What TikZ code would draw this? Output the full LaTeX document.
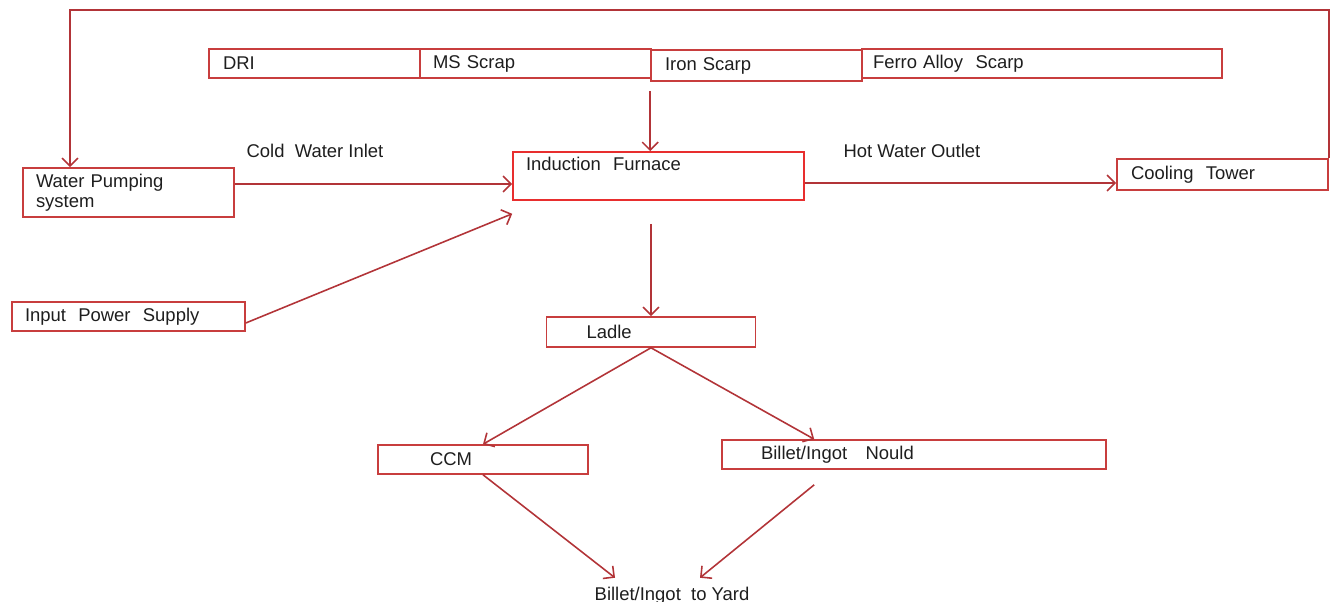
\documentclass[tikz,border=0pt]{standalone}
\usepackage{fontspec}
\setmainfont{Liberation Sans}
\usetikzlibrary{arrows.meta,calc}
\definecolor{boxred}{RGB}{200,62,62}
\definecolor{linered}{RGB}{178,52,56}
\definecolor{furnred}{RGB}{232,46,46}
\definecolor{txt}{RGB}{30,30,30}
\begin{document}
\begin{tikzpicture}
		\tikzset{block/.style = {shape=rectangle,draw=boxred,line width=.9pt,inner ysep=0pt,align=left,text=txt,font=\fontsize{10.5}{11.5}\selectfont}}
		\tikzset{label/.style = {text=txt,inner sep=0pt,font=\fontsize{10.5}{11}\selectfont}}
		\tikzset{edge/.style = {draw=linered,line width=.9pt,-{Straight Barb[length=1.6mm,width=3.2mm]}}}
		\useasboundingbox (0,0) rectangle (26.6,-12.04);
		% raw materials
		\node[block,minimum height=.58cm,inner xsep=.28cm,text width=3.66cm] (dri) at (6.29,-1.27) {DRI};
		\node[block,minimum height=.58cm,inner xsep=.26cm,text width=4.10cm] (ms) at (10.71,-1.27) {MS Scrap};
		\node[block,minimum height=.62cm,inner xsep=.28cm,text width=3.66cm] (iron) at (15.13,-1.31) {Iron Scarp};
		\node[block,minimum height=.58cm,inner xsep=.22cm,text width=6.76cm] (ferro) at (20.84,-1.27) {Ferro Alloy\ \ Scarp};
		% main line
		\node[block,minimum height=.98cm,inner xsep=.26cm,text width=3.70cm] (wps) at (2.57,-3.85) {Water Pumping\\system};
		\node[block,draw=furnred,inner xsep=.26cm,text width=5.30cm,text height=.38cm,text depth=.58cm] (furnace) at (13.17,-3.52) {Induction\ \ Furnace};
		\node[block,minimum height=.62cm,inner xsep=.28cm,text width=3.66cm] (cooling) at (24.45,-3.49) {Cooling\ \ Tower};
		\node[block,minimum height=.58cm,inner xsep=.26cm,text width=4.14cm] (power) at (2.57,-6.33) {Input\ \ Power\ \ Supply};
		\node[block,minimum height=.60cm,inner xsep=.80cm,text width=2.58cm] (ladle) at (13.02,-6.64) {Ladle};
		\node[block,minimum height=.58cm,inner xsep=1.04cm,text width=2.12cm] (ccm) at (9.66,-9.19) {CCM};
		\node[block,minimum height=.58cm,inner xsep=.78cm,text width=6.12cm] (mould) at (18.28,-9.09) {Billet/Ingot\ \ \ Nould};
		\node[label,anchor=base] (yard) at (13.44,-12.0) {Billet/Ingot\ \ to Yard};
		\node[label] (cold) at (6.3,-3.02) {Cold\ \ Water Inlet};
		\node[label] (hot) at (18.24,-3.02) {Hot Water Outlet};
		\coordinate (loop) at (1.4,-0.2);
		% connectors
		\draw[edge] ([yshift=-.18cm]iron.south west) -- (iron.south west |- furnace.north);
		\draw[edge] ([yshift=.17cm]wps.east) -- ([yshift=.17cm]wps.east -| furnace.west);
		\draw[edge] ([yshift=-.14cm]furnace.east) -- ([yshift=-.14cm]furnace.east -| cooling.west);
		\draw[edge] (cooling.north east) |- (loop) -- (loop |- wps.north);
		\draw[edge] ([yshift=-.13cm]power.east) -- ([yshift=-.26cm]furnace.south west);
		\draw[edge] ($(furnace.south -| ladle.north)+(0,-.46)$) -- (ladle.north);
		\draw[edge] (ladle.south) -- (ccm.north);
		\draw[edge] (ladle.south) -- ([xshift=1.86cm]mould.north west);
		\draw[edge] (ccm.south) -- ([xshift=-1.14cm,yshift=.17cm]yard.north);
		\draw[edge] ([xshift=1.86cm,yshift=-.3cm]mould.south west) -- ([xshift=.56cm,yshift=.17cm]yard.north);
	\end{tikzpicture}
\end{document}
